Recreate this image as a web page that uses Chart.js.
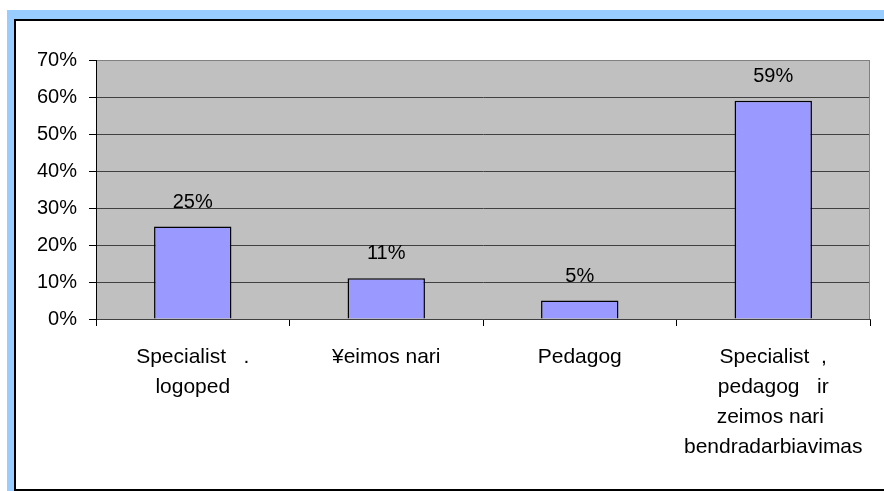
<!DOCTYPE html>
<html>
<head>
<meta charset="utf-8">
<script src="https://cdn.jsdelivr.net/npm/chart.js@4.4.1/dist/chart.umd.min.js"></script>
<style>
  html, body { margin: 0; padding: 0; background: #fff; }
  #wrap { position: relative; width: 884px; height: 491px; overflow: hidden; background: #fff; }
  #chart { position: absolute; left: 0; top: 0; }
  .f { position: absolute; }
</style>
</head>
<body>
<div id="wrap">
  <div class="f" style="left:7px;top:10px;width:877px;height:9px;background:#99CCFF"></div>
  <div class="f" style="left:7px;top:10px;width:7px;height:481px;background:#99CCFF"></div>
  <div class="f" style="left:14px;top:19px;width:870px;height:2px;background:#000"></div>
  <div class="f" style="left:14px;top:19px;width:2px;height:472px;background:#000"></div>
  <div class="f" style="left:14px;top:489px;width:870px;height:2px;background:#000"></div>
  <canvas id="chart" width="884" height="491"></canvas>
</div>
<script>
const categories = [
  ["Specialist   .", "logoped"],
  ["\u00A5eimos nari"],
  ["Pedagog"],
  ["Specialist  ,", "pedagog   ir", "zeimos nari ", "bendradarbiavimas"]
];
const values = [25, 11, 5, 59];
const valueLabels = ["25%", "11%", "5%", "59%"];
const yTicks = [0, 10, 20, 30, 40, 50, 60, 70];

const FONT = "'Liberation Sans', Arial, sans-serif";

const plotBg = {
  id: 'plotBg',
  beforeDraw(chart) {
    const {ctx, chartArea: a} = chart;
    ctx.save();
    ctx.fillStyle = '#C0C0C0';
    ctx.fillRect(a.left, a.top, a.right - a.left, a.bottom - a.top);
    ctx.restore();
  },
  afterDatasetsDraw(chart) {
    const {ctx, chartArea: a} = chart;
    ctx.save();
    ctx.strokeStyle = '#808080';
    ctx.lineWidth = 1;
    ctx.beginPath();
    ctx.moveTo(a.left, a.top + 0.5);
    ctx.lineTo(a.right - 0.5, a.top + 0.5);
    ctx.lineTo(a.right - 0.5, a.bottom);
    ctx.stroke();
    ctx.strokeStyle = '#000';
    ctx.beginPath();
    ctx.moveTo(a.left + 0.5, a.top);
    ctx.lineTo(a.left + 0.5, a.bottom + 7);
    ctx.stroke();
    const meta = chart.getDatasetMeta(0);
    ctx.fillStyle = '#000';
    ctx.font = '20px ' + FONT;
    ctx.textAlign = 'center';
    ctx.textBaseline = 'alphabetic';
    meta.data.forEach((bar, i) => {
      ctx.fillText(valueLabels[i], bar.x, bar.y - 19);
    });
    ctx.restore();
  }
};

new Chart(document.getElementById('chart'), {
  type: 'bar',
  data: {
    labels: categories,
    datasets: [{
      data: values,
      backgroundColor: '#9999FF',
      borderColor: '#000',
      borderWidth: 1.5,
      categoryPercentage: 1,
      barPercentage: 0.4
    }]
  },
  options: {
    responsive: false,
    animation: false,
    events: [],
    layout: { padding: { left: 16, right: 14, top: 60, bottom: 0 } },
    plugins: { legend: { display: false }, tooltip: { enabled: false } },
    scales: {
      x: {
        afterFit(s) { s.height = 172; },
        grid: { offset: true, drawOnChartArea: false, drawTicks: true, tickLength: 7, color: '#000', lineWidth: 1 },
        border: { display: true, color: '#404040' },
        ticks: { color: '#000', font: { family: FONT, size: 21, lineHeight: 1.43 }, padding: 16, maxRotation: 0, autoSkip: false }
      },
      y: {
        min: 0, max: 70,
        afterFit(s) { s.width = 80; },
        afterBuildTicks(s) { s.ticks = yTicks.map(v => ({ value: v })); },
        grid: {
          color: (c) => (c.tick && c.tick.value === 70) ? '#808080' : '#404040',
          tickColor: '#000',
          tickLength: 7,
          lineWidth: 1
        },
        border: { display: true, color: '#000' },
        ticks: { color: '#000', font: { family: FONT, size: 20 }, padding: 12, callback: v => v + '%' }
      }
    }
  },
  plugins: [plotBg]
});
</script>
</body>
</html>
